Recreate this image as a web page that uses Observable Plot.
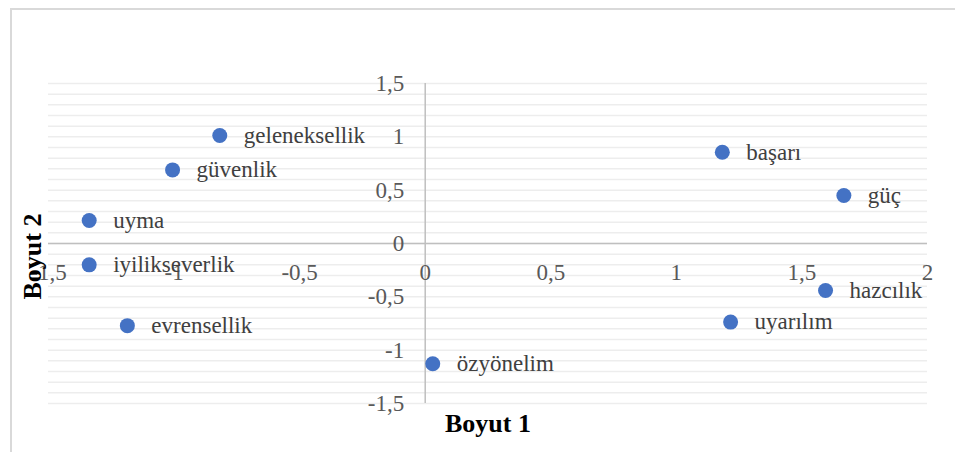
<!DOCTYPE html>
<html>
<head>
<meta charset="utf-8">
<script src="https://cdn.jsdelivr.net/npm/d3@7"></script>
<script src="https://cdn.jsdelivr.net/npm/@observablehq/plot@0.6"></script>
<style>
  html, body { margin: 0; padding: 0; background: #fff; }
  #wrap { position: relative; width: 955px; height: 452px; overflow: hidden; }
  #border { position: absolute; left: 10px; top: 8px; width: 1000px; height: 1000px;
            border-left: 2px solid #d9d9d9; border-top: 2px solid #d9d9d9; box-sizing: border-box; }
  svg { position: absolute; left: 0; top: 0; }
  svg text { font-family: "Liberation Serif", "Times New Roman", serif !important; }
</style>
</head>
<body>
<div id="wrap"><div id="border"></div></div>
<script>
const labels = ["geleneksellik", "güvenlik", "uyma", "iyilikseverlik", "evrensellik", "özyönelim", "başarı", "güç", "hazcılık", "uyarılım"];
const boyut1 = [-0.818, -1.006, -1.338, -1.338, -1.186, 0.03, 1.183, 1.667, 1.594, 1.216];
const boyut2 = [1.012, 0.69, 0.216, -0.20, -0.77, -1.128, 0.856, 0.45, -0.44, -0.737];
const xTicks = [-1.5, -1, -0.5, 0, 0.5, 1, 1.5, 2];
const yTicks = [-1.5, -1, -0.5, 0, 0.5, 1, 1.5];
const gridY = d3.range(-15, 16).map(i => i / 10);

const data = labels.map((l, i) => ({label: l, x: boyut1[i], y: boyut2[i]}));
const fmt = v => String(v).replace(".", ",");
const font = "Liberation Serif";

const chart = Plot.plot({
  width: 955,
  height: 452,
  marginLeft: 48,
  marginRight: 28,
  marginTop: 83,
  marginBottom: 49,
  x: {domain: [-1.5, 2], axis: null},
  y: {domain: [-1.5, 1.5], axis: null},
  style: {fontFamily: font, background: "transparent"},
  marks: [
    Plot.ruleY(gridY, {stroke: "#ededed", strokeWidth: 1.5}),
    Plot.ruleY([0], {stroke: "#bfbfbf", strokeWidth: 1.5}),
    Plot.ruleX([0], {y1: -1.5, y2: 1.5, stroke: "#bfbfbf", strokeWidth: 1.5}),
    Plot.text(xTicks, {x: d => d, y: 0, text: fmt, dy: 29, fill: "#595959", fontSize: 23, fontFamily: font}),
    Plot.text(yTicks, {x: 0, y: d => d, text: fmt, dx: -21, textAnchor: "end", fill: "#595959", fontSize: 23, fontFamily: font}),
    Plot.dot(data, {x: "x", y: "y", r: 7.5, fill: "#4472C4", stroke: "none"}),
    Plot.text(data, {x: "x", y: "y", text: "label", dx: 24, textAnchor: "start", fill: "#404040", fontSize: 23, fontFamily: font}),
    Plot.text(["Boyut 1"], {frameAnchor: "bottom", textAnchor: "middle", lineAnchor: "middle", dy: 20, fontSize: 26, fontWeight: "bold", fill: "#000", fontFamily: font}),
    Plot.text(["Boyut 2"], {frameAnchor: "left", textAnchor: "middle", lineAnchor: "middle", rotate: -90, dx: -16, dy: 13, fontSize: 26, fontWeight: "bold", fill: "#000", fontFamily: font})
  ]
});
document.getElementById("wrap").appendChild(chart);
</script>
</body>
</html>
